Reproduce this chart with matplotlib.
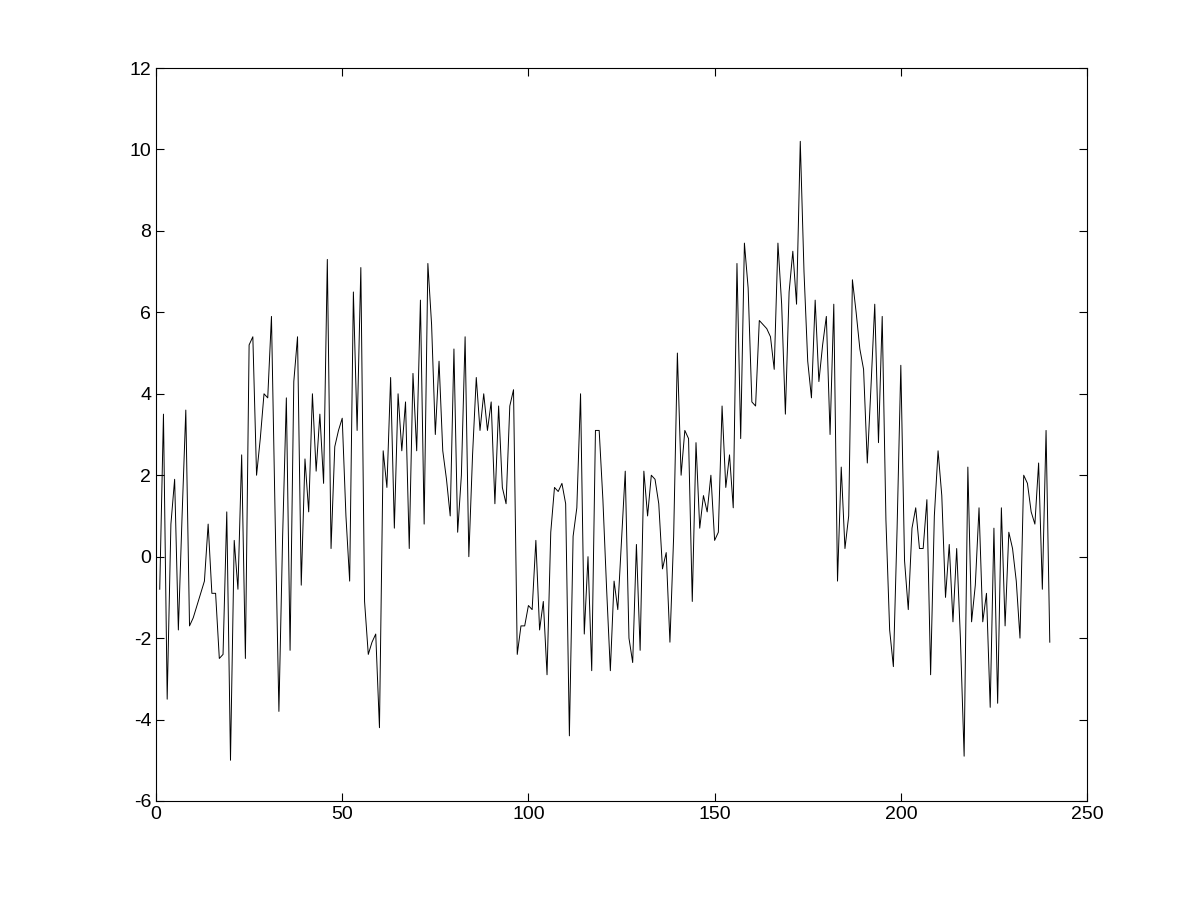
import numpy as np
import matplotlib.pyplot as plt

# Signal values, samples 1..240
y = [
    -0.8, 3.5, -3.5, 0.8, 1.9, -1.8, 1.0, 3.6, -1.7, -1.5,
    -1.2, -0.9, -0.6, 0.8, -0.9, -0.9, -2.5, -2.4, 1.1, -5.0,
    0.4, -0.8, 2.5, -2.5, 5.2, 5.4, 2.0, 2.9, 4.0, 3.9,
    5.9, 0.9, -3.8, 0.5, 3.9, -2.3, 4.3, 5.4, -0.7, 2.4,
    1.1, 4.0, 2.1, 3.5, 1.8, 7.3, 0.2, 2.7, 3.1, 3.4,
    1.0, -0.6, 6.5, 3.1, 7.1, -1.1, -2.4, -2.1, -1.9, -4.2,
    2.6, 1.7, 4.4, 0.7, 4.0, 2.6, 3.8, 0.2, 4.5, 2.6,
    6.3, 0.8, 7.2, 5.7, 3.0, 4.8, 2.6, 1.9, 1.0, 5.1,
    0.6, 2.0, 5.4, 0.0, 2.5, 4.4, 3.1, 4.0, 3.1, 3.8,
    1.3, 3.7, 1.7, 1.3, 3.7, 4.1, -2.4, -1.7, -1.7, -1.2,
    -1.3, 0.4, -1.8, -1.1, -2.9, 0.6, 1.7, 1.6, 1.8, 1.3,
    -4.4, 0.5, 1.2, 4.0, -1.9, 0.0, -2.8, 3.1, 3.1, 1.4,
    -0.8, -2.8, -0.6, -1.3, 0.4, 2.1, -2.0, -2.6, 0.3, -2.3,
    2.1, 1.0, 2.0, 1.9, 1.3, -0.3, 0.1, -2.1, 0.5, 5.0,
    2.0, 3.1, 2.9, -1.1, 2.8, 0.7, 1.5, 1.1, 2.0, 0.4,
    0.6, 3.7, 1.7, 2.5, 1.2, 7.2, 2.9, 7.7, 6.6, 3.8,
    3.7, 5.8, 5.7, 5.6, 5.4, 4.6, 7.7, 6.2, 3.5, 6.5,
    7.5, 6.2, 10.2, 7.0, 4.8, 3.9, 6.3, 4.3, 5.2, 5.9,
    3.0, 6.2, -0.6, 2.2, 0.2, 1.0, 6.8, 6.0, 5.1, 4.6,
    2.3, 4.2, 6.2, 2.8, 5.9, 0.9, -1.8, -2.7, 0.7, 4.7,
    -0.1, -1.3, 0.7, 1.2, 0.2, 0.2, 1.4, -2.9, 1.0, 2.6,
    1.5, -1.0, 0.3, -1.6, 0.2, -2.0, -4.9, 2.2, -1.6, -0.7,
    1.2, -1.6, -0.9, -3.7, 0.7, -3.6, 1.2, -1.7, 0.6, 0.2,
    -0.6, -2.0, 2.0, 1.8, 1.1, 0.8, 2.3, -0.8, 3.1, -2.1,
]
x = np.arange(1, len(y) + 1)

plt.rcParams['font.family'] = ['Liberation Sans', 'DejaVu Sans']
plt.rcParams['axes.unicode_minus'] = False

fig = plt.figure(figsize=(12.01, 9.01), dpi=100)
ax = fig.add_axes([0.1299, 0.111, 0.7752, 0.8135])
ax.plot(x, y, color="black", linewidth=0.7)

ax.set_xlim(0, 250)
ax.set_ylim(-6, 12)
ax.set_xticks(np.arange(0, 251, 50))
ax.set_yticks(np.arange(-6, 13, 2))
ax.tick_params(direction="in", top=True, right=True, length=6, width=0.8, labelsize=14)
for s in ax.spines.values():
    s.set_linewidth(0.8)

fig.savefig("out.png", dpi=100)
